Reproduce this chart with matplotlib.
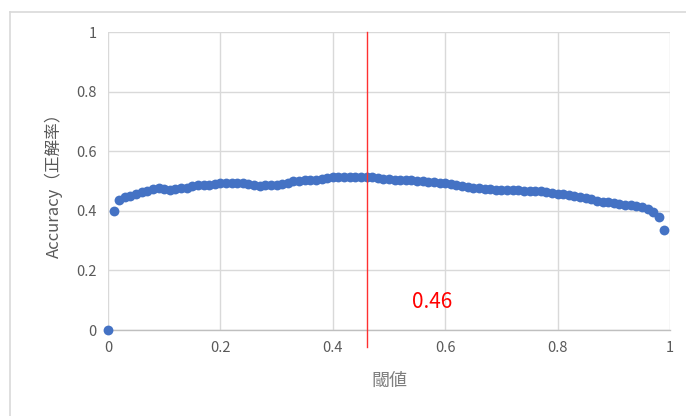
import matplotlib.pyplot as plt
from matplotlib.lines import Line2D
import numpy as np

plt.rcParams['font.family'] = ['Noto Sans CJK JP', 'DejaVu Sans']

# threshold sweep 0.00 .. 0.99
thresholds = [i / 100 for i in range(100)]
accuracy = [
    0.000, 0.400, 0.435, 0.445, 0.450, 0.455, 0.462, 0.468, 0.474, 0.475,
    0.473, 0.470, 0.472, 0.475, 0.478, 0.482, 0.485, 0.487, 0.488, 0.490,
    0.492, 0.494, 0.495, 0.494, 0.492, 0.489, 0.486, 0.484, 0.485, 0.487,
    0.486, 0.489, 0.495, 0.499, 0.501, 0.502, 0.503, 0.505, 0.507, 0.511,
    0.514, 0.515, 0.515, 0.515, 0.514, 0.515, 0.515, 0.513, 0.511, 0.508,
    0.506, 0.505, 0.504, 0.503, 0.502, 0.501, 0.499, 0.497, 0.496, 0.495,
    0.494, 0.490, 0.486, 0.483, 0.480, 0.478, 0.476, 0.474, 0.472, 0.471,
    0.471, 0.470, 0.469, 0.469, 0.468, 0.468, 0.468, 0.466, 0.463, 0.460,
    0.458, 0.456, 0.453, 0.450, 0.447, 0.442, 0.438, 0.433, 0.430, 0.428,
    0.426, 0.424, 0.421, 0.418, 0.416, 0.412, 0.405, 0.396, 0.378, 0.337,
]
best_threshold = 0.46

ticks = [0, 0.2, 0.4, 0.6, 0.8, 1]
tick_labels = ['0', '0.2', '0.4', '0.6', '0.8', '1']

fig = plt.figure(figsize=(6.86, 4.16), dpi=100)
ax = fig.add_axes([0.1574, 0.2067, 0.8193, 0.7163])

# outer chart frame (left and top edges visible)
fig.add_artist(Line2D([10 / 686, 10 / 686], [0, 1 - 12 / 416],
                      transform=fig.transFigure, color='#D9D9D9', lw=1.2))
fig.add_artist(Line2D([10 / 686, 1], [1 - 12 / 416, 1 - 12 / 416],
                      transform=fig.transFigure, color='#D9D9D9', lw=1.2))

ax.set_xlim(0, 1)
ax.set_ylim(0, 1)
ax.set_xticks(ticks)
ax.set_yticks(ticks)
ax.set_xticklabels(tick_labels)
ax.set_yticklabels(tick_labels)
ax.grid(True, color='#D9D9D9', lw=1.0)
ax.set_axisbelow(True)
for side in ['top', 'right', 'left']:
    ax.spines[side].set_visible(False)
ax.spines['bottom'].set_color('#BFBFBF')
ax.spines['bottom'].set_linewidth(1.0)
ax.tick_params(length=0, labelsize=10.5, colors='#595959', pad=8)

ax.scatter(thresholds, accuracy, s=50, color='#4472C4', zorder=3,
           clip_on=False, linewidths=0)

ax.plot([best_threshold, best_threshold], [-0.057, 1.0], color='#FF3030',
        lw=1.0, clip_on=False, zorder=4)
ax.text(0.577, 0.094, f'{best_threshold:.2f}', color='#FF0000',
        fontsize=15, ha='center', va='center')

ax.set_xlabel('閾値', fontsize=13, color='#7F7F7F', labelpad=12)
ax.set_ylabel('Accuracy（正解率）', fontsize=12, color='#595959', labelpad=10)

fig.savefig('out.png', dpi=100)
